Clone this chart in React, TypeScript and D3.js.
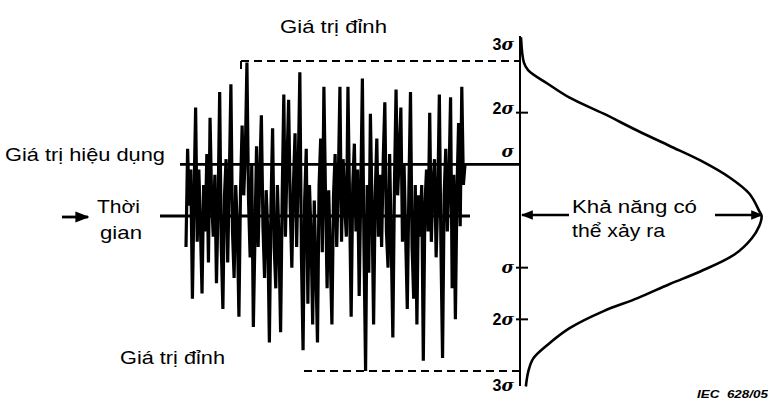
import React from 'react'
import * as d3 from 'd3'

// Tín hiệu ngẫu nhiên (đơn vị σ), đọc từ hình theo từng nét dọc
const signal = [
  -0.6, 1.3, 0.2, 0.9, -1.6, 0.4, 2.1, -0.5, 0.9, -0.2,
  -1.5, 0.6, -0.3, 1.2, -0.9, 1.9, 0.3, -0.4, 0.8, -1.3,
  0.2, 2.4, -0.6, -1.8, 0.4, 1.1, -0.9, 0.7, 2.55, -0.3,
  -1.2, 0.6, -0.2, -1.95, 0.5, 1.75, 0.4, 1.2, 2.97, 0.3,
  -0.8, 1.0, -2.15, -0.4, 1.35, -0.6, 0.8, 1.95, -0.2, -1.2,
  0.5, -0.3, -2.45, 0.2, 1.7, -0.6, -1.4, 0.6, -0.5, -2.25,
  0.4, 2.35, -0.4, 1.0, 2.25, 0.2, -1.0, 0.6, 1.6, -0.6,
  0.9, 2.78, -0.8, -2.6, 0.3, 1.3, -1.7, 0.6, -0.4, -2.1,
  0.3, -1.0, -2.45, 0.6, 1.5, -0.7, 2.5, 0.4, -1.4, 0.5,
  -0.8, -2.1, 0.4, 1.2, -0.6, 0.7, 2.5, -0.5, 1.1, 0.2,
  -0.4, 2.5, 0.3, -1.95, 0.6, 1.4, -0.3, 0.9, -1.55, 0.5,
  2.66, -0.6, -3.0, 0.6, -1.1, 1.98, 0.2, -2.1, 0.4, 1.5,
  -0.4, 0.8, -0.6, 1.1, 2.2, -0.3, -1.0, 1.2, -0.5, -2.35,
  0.6, 2.45, 0.4, 1.2, 2.1, -0.5, 1.0, -0.4, -1.8, 0.5,
  2.4, -0.6, -1.6, 0.6, -2.1, 0.4, -0.4, 0.6, -2.8, 0.2,
  0.9, -0.3, 2.0, -0.5, 0.6, 1.1, -0.8, 0.3, 2.35, -0.6,
  -2.75, 0.4, 1.3, -0.3, 0.7, 2.3, -1.4, 0.8, -2.0, 0.5,
  1.8, -0.2, 2.5, 0.6, 1.0,
]

// Đường cong phân bố xác suất: mức (σ) và mật độ tương đối
const curveLevels = [3.46, 2.97, 2.82, 2.56, 2.29, 1.98, 1.65, 1.36, 1.07, 0.74, 0.43, 0.1, 0,
  -0.2, -0.43, -0.74, -1.07, -1.32, -1.59, -1.84, -2.17, -2.49, -2.76, -3.01, -3.3]
const curveDensity = [0, 0.012, 0.03, 0.11, 0.2, 0.34, 0.48, 0.61, 0.74, 0.86, 0.94, 0.98, 0.99,
  0.98, 0.95, 0.88, 0.74, 0.61, 0.48, 0.34, 0.2, 0.11, 0.05, 0.03, 0.02]

const tickLevels = [2, -1, -2]
const sigmaLabelLevels = [3.33, 2.08, 1.25, -1, -2, -3.27]
const sigmaLabelText = ['3', '2', '', '', '2', '3']

const W = 768, H = 402
const FONT = 'Liberation Sans, Arial, sans-serif'

export default function App() {
  const y = d3.scaleLinear().domain([-3, 3]).range([371, 61])
  const x = d3.scaleLinear().domain([0, signal.length - 1]).range([186, 465])
  const axisX = 520
  const dens = d3.scaleLinear().domain([0, 1]).range([axisX + 1, 764])

  const sigLine = d3.line<number>().x((d, i) => x(i)).y(d => y(d))
  const pdf = curveLevels.map((lv, i) => [dens(curveDensity[i]), y(lv)] as [number, number])
  const pdfLine = d3.line().curve(d3.curveCatmullRom.alpha(0.5))

  const y0 = y(0)
  const ySig = y(1)
  const yTop = y(3)
  const yBot = y(-3)

  // chữ trong hình gốc rộng hơn Arial: ép theo bề rộng đo được
  const label = (tx: number, ty: number, s: string, len: number) => (
    <text x={tx} y={ty} fontSize={18.5} textLength={len} lengthAdjust="spacingAndGlyphs">{s}</text>
  )

  return (
    <svg width={W} height={H} style={{ position: 'absolute', left: 0, top: 0, background: '#fff' }}
      fontFamily={FONT}>
      <defs>
        <marker id="ah" viewBox="0 0 10 10" refX="9" refY="5" markerWidth="5" markerHeight="5"
          markerUnits="strokeWidth" orient="auto-start-reverse">
          <path d="M0,1 L10,5 L0,9 z" fill="#000" />
        </marker>
      </defs>

      {/* tín hiệu */}
      <path d={sigLine(signal) || ''} fill="none" stroke="#000" strokeWidth={3.2} strokeLinejoin="bevel" />

      {/* đường trị hiệu dụng và trục thời gian */}
      <line x1={180} x2={axisX} y1={ySig} y2={ySig} stroke="#000" strokeWidth={2.6} />
      <line x1={160} x2={470} y1={y0} y2={y0} stroke="#000" strokeWidth={2.8} />

      {/* đường đỉnh (nét đứt) */}
      <line x1={241} x2={241} y1={yTop} y2={yTop + 8} stroke="#000" strokeWidth={2} />
      <line x1={241} x2={axisX} y1={yTop} y2={yTop} stroke="#000" strokeWidth={2} strokeDasharray="8 5" />
      <line x1={304} x2={axisX} y1={yBot} y2={yBot} stroke="#000" strokeWidth={2} strokeDasharray="8 5" />

      {/* trục dọc */}
      <line x1={axisX} x2={axisX} y1={36} y2={386} stroke="#000" strokeWidth={2} />
      {tickLevels.map(t => (
        <line key={t} x1={axisX - 4} x2={axisX + 8} y1={y(t)} y2={y(t)} stroke="#000" strokeWidth={2} />
      ))}
      {sigmaLabelLevels.map((lv, i) => (
        <text key={i} x={514} y={y(lv)} dy="0.35em" textAnchor="end" fontSize={16} fontWeight="bold">
          {sigmaLabelText[i]}<tspan fontStyle="italic" fontFamily="DejaVu Serif, serif" fontSize={17}>σ</tspan>
        </text>
      ))}

      {/* đường cong phân bố */}
      <path d={pdfLine(pdf) || ''} fill="none" stroke="#000" strokeWidth={2.6} />

      {/* mũi tên khả năng */}
      <line x1={569} x2={axisX + 2} y1={y0 - 1} y2={y0 - 1} stroke="#000" strokeWidth={2.4} markerEnd="url(#ah)" />
      <line x1={715} x2={762} y1={y0 - 1} y2={y0 - 1} stroke="#000" strokeWidth={2.4} markerEnd="url(#ah)" />
      {label(572, 213, 'Khả năng có', 125)}
      {label(572, 237, 'thể xảy ra', 93)}

      {/* chú thích bên trái */}
      {label(280, 33, 'Giá trị đỉnh', 107)}
      {label(5, 161, 'Giá trị hiệu dụng', 160)}
      <line x1={62} x2={88} y1={y0 + 1} y2={y0 + 1} stroke="#000" strokeWidth={2.8} markerEnd="url(#ah)" />
      {label(97, 213, 'Thời', 43)}
      {label(100, 239, 'gian', 42)}
      {label(120, 364, 'Giá trị đỉnh', 105)}

      <text x={697} y={398} fontSize={11.5} fontStyle="italic" fontWeight="bold" textLength={71}
        lengthAdjust="spacingAndGlyphs">IEC&#160;&#160;628/05</text>
    </svg>
  )
}
